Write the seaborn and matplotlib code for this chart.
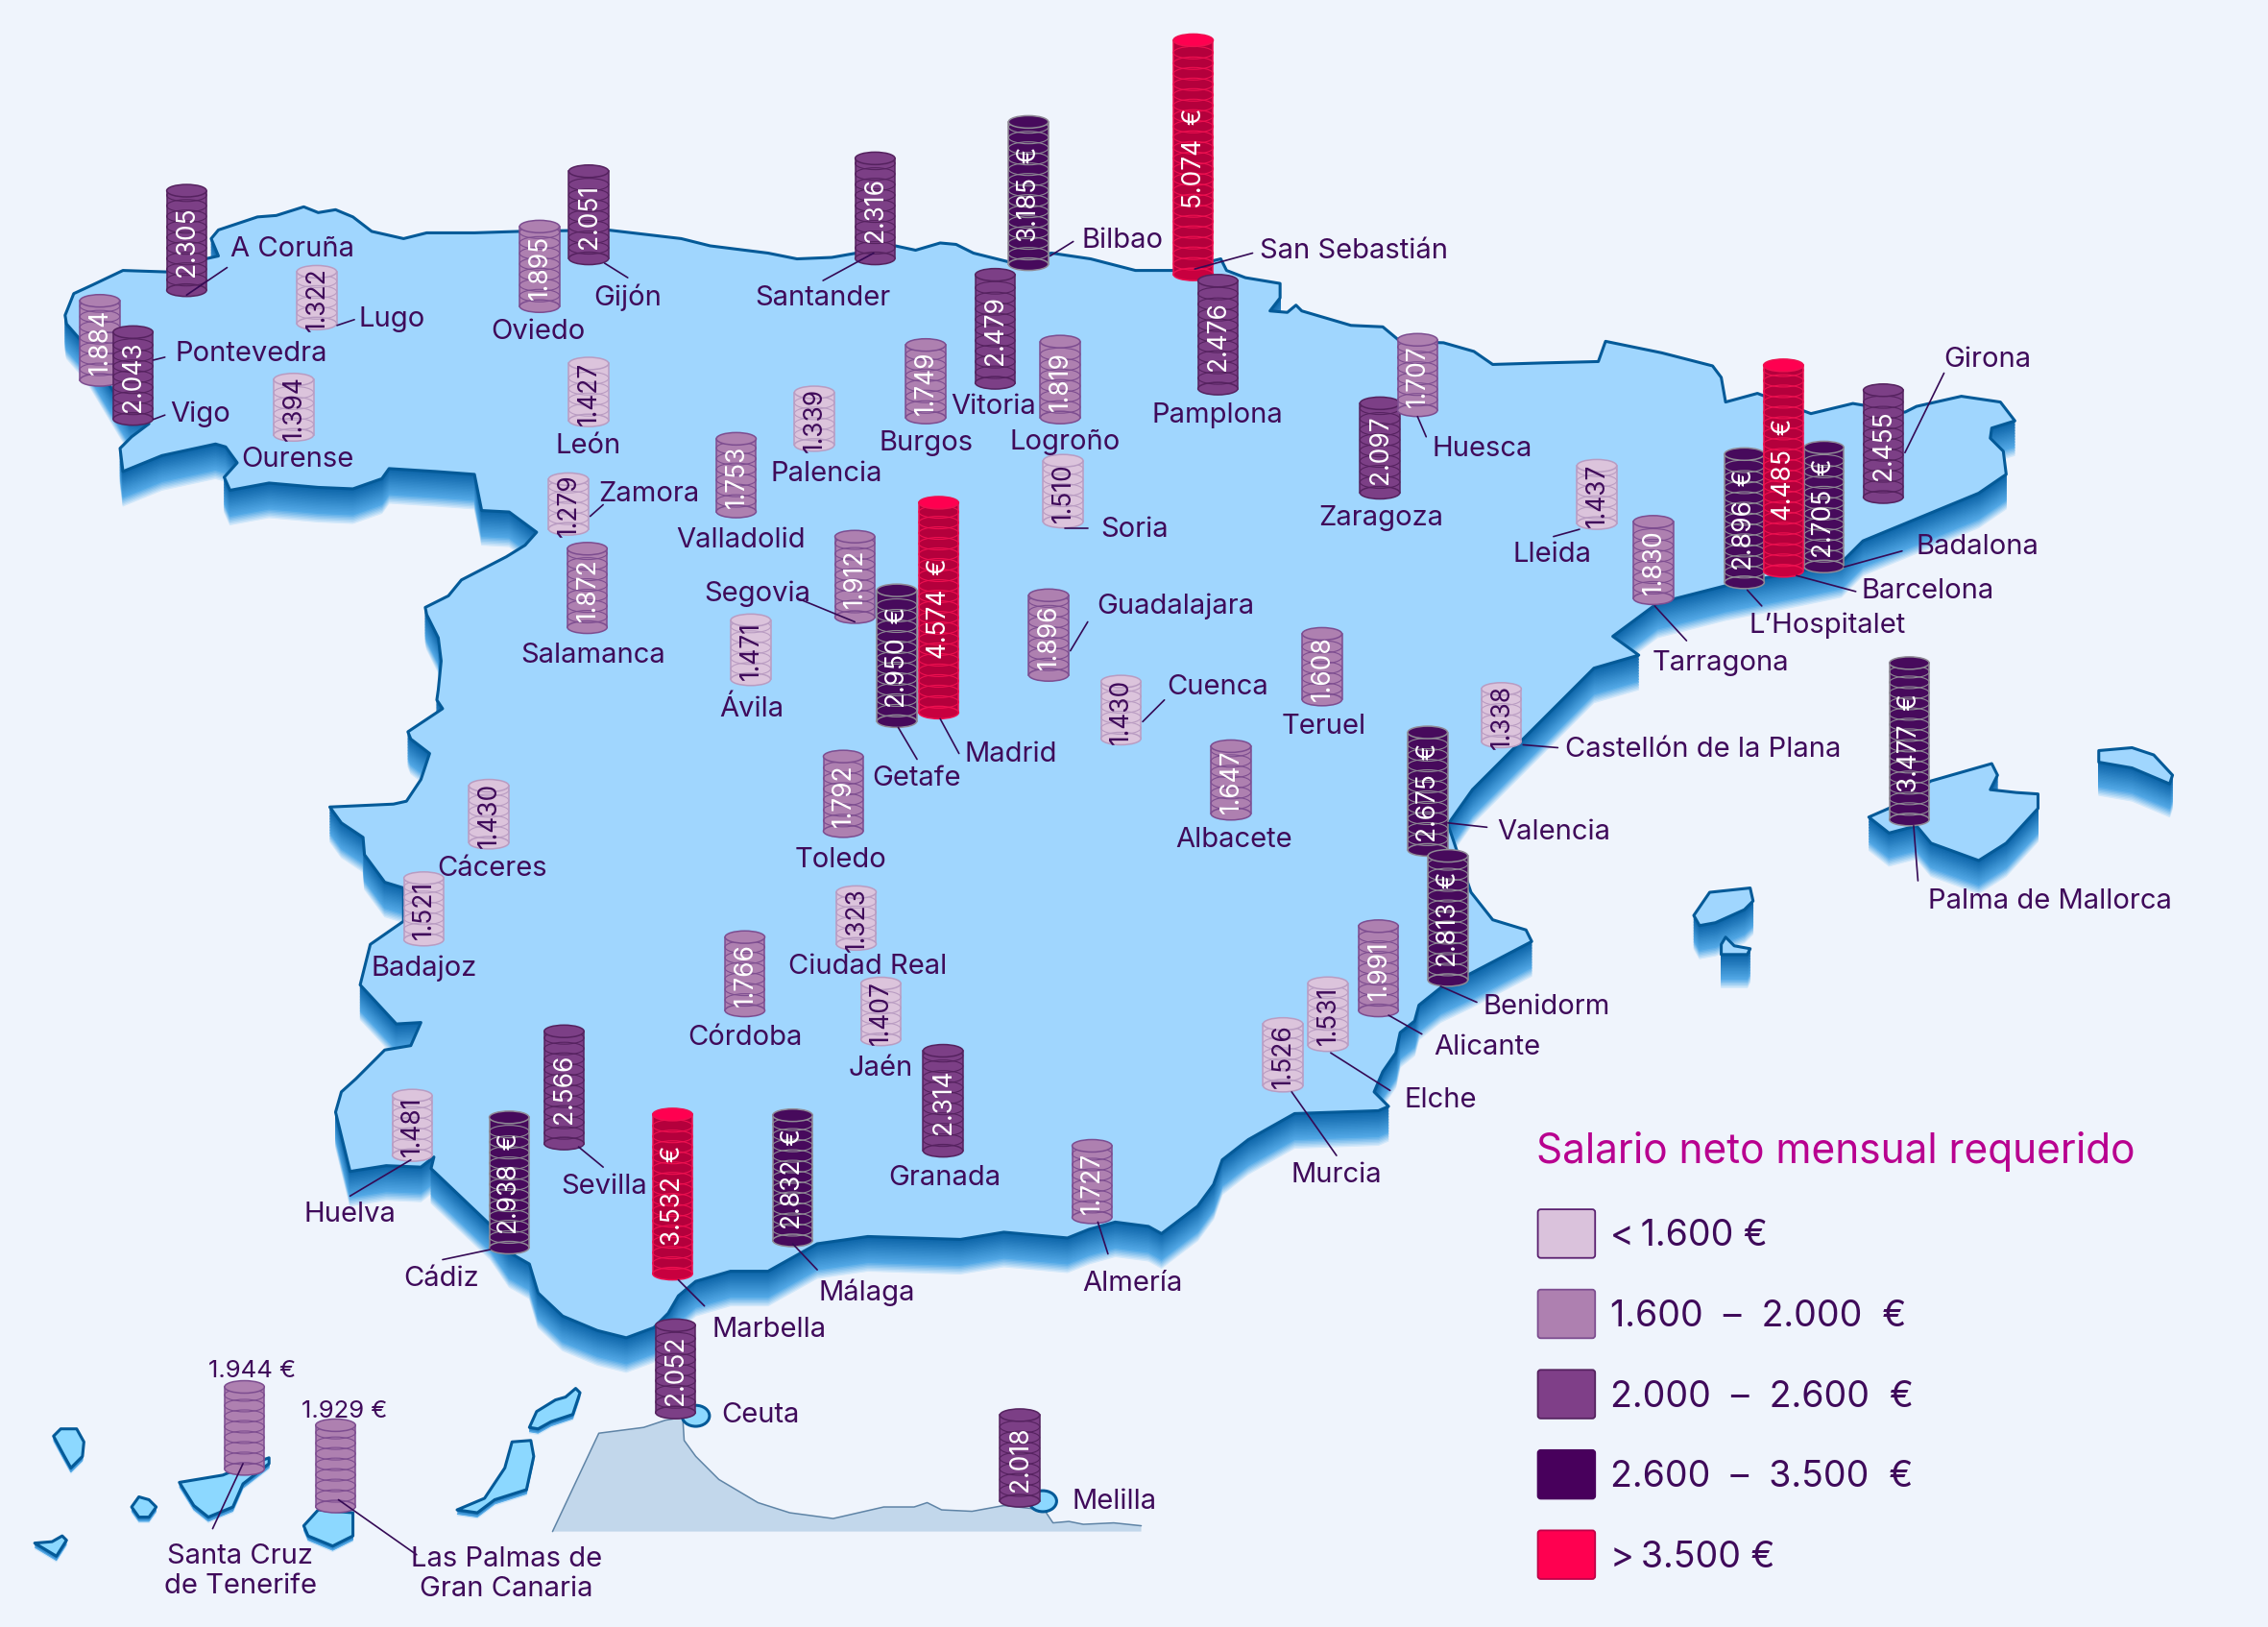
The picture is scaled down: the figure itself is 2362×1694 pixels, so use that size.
import numpy as np
import pandas as pd
import matplotlib
matplotlib.use("Agg")
import matplotlib.pyplot as plt
from matplotlib.colors import to_rgb
from matplotlib.patches import Ellipse, FancyBboxPatch, Polygon
import seaborn as sns

# ---------- data ----------
cities = ["Oviedo","Gijón","A Coruña","Lugo","Pontevedra","Vigo","Ourense","León","Zamora","Salamanca",
          "Valladolid","Palencia","Santander","Bilbao","Vitoria","Burgos","Logroño","Soria","San Sebastián","Pamplona",
          "Zaragoza","Huesca","Lleida","Tarragona","L’Hospitalet","Badalona","Barcelona","Girona","Segovia","Getafe",
          "Madrid","Ávila","Guadalajara","Cuenca","Teruel","Castellón de la Plana","Valencia","Benidorm","Albacete","Palma de Mallorca",
          "Toledo","Cáceres","Badajoz","Ciudad Real","Córdoba","Jaén","Granada","Alicante","Elche","Murcia",
          "Almería","Huelva","Cádiz","Sevilla","Marbella","Málaga","Ceuta","Melilla","Santa Cruz\nde Tenerife","Las Palmas de\nGran Canaria"]
salaries = [1895,2051,2305,1322,1884,2043,1394,1427,1279,1872,
            1753,1339,2316,3185,2479,1749,1819,1510,5074,2476,
            2097,1707,1437,1830,2896,2705,4485,2455,1912,2950,
            4574,1471,1896,1430,1608,1338,2675,2813,1647,3477,
            1792,1430,1521,1323,1766,1407,2314,1991,1531,1526,
            1727,1481,2938,2566,3532,2832,2052,2018,1944,1929]
# map position of each column: centre and foot
map_x = [373,407,129,219,69,92,203,407,393,406,
         509,563,605,711,688,640,733,735,825,842,
         954,980,1104,1143,1206,1261,1233,1302,591,620,
         649,519,725,775,914,1038,987,1001,851,1320,
         583,338,293,592,515,609,652,953,918,887,
         755,285,352,390,465,548,467,705,169,232]
map_y = [216,183,205,228,267,294,305,295,370,438,
         358,312,183,187,269,293,293,365,194,273,
         345,288,366,418,407,396,399,348,431,503,
         497,474,471,515,488,517,592,682,567,571,
         579,587,654,657,703,723,800,703,727,755,
         846,803,867,795,885,862,981,1042,1020,1046]
label_x = [372,434,159,248,121,118,206,407,414,410,
           512,533,569,748,687,640,736,761,871,842,
           955,990,1073,1142,1209,1325,1287,1344,487,603,
           667,520,758,807,915,1082,1035,1025,853,1333,
           581,340,293,545,515,609,653,991,971,924,
           783,242,305,388,492,566,499,741,166,350]
label_y = [228,204,171,219,243,285,316,307,340,452,
           372,326,205,165,280,305,304,365,172,286,
           357,309,382,457,431,377,407,247,409,537,
           520,489,418,474,501,517,574,695,579,622,
           593,599,668,667,716,737,813,723,759,811,
           886,838,883,819,918,892,977,1037,1085,1087]
label_left = {"A Coruña","Lugo","Pontevedra","Vigo","Zamora","Palencia","Bilbao","Soria","San Sebastián","Huesca",
              "Tarragona","L’Hospitalet","Badalona","Barcelona","Girona","Segovia","Getafe","Madrid","Guadalajara","Cuenca",
              "Castellón de la Plana","Valencia","Benidorm","Palma de Mallorca","Ciudad Real","Alicante","Elche","Sevilla",
              "Marbella","Málaga","Ceuta","Melilla"}
leaders = {"A Coruña":[(129,204),(157,185)],"Lugo":[(233,225),(245,221)],"Pontevedra":[(106,249),(114,247)],
           "Vigo":[(106,290),(114,287)],"Gijón":[(418,182),(434,192)],"Zamora":[(408,357),(417,349)],
           "Santander":[(604,175),(569,194)],"Bilbao":[(726,177),(742,167)],"San Sebastián":[(826,186),(866,175)],
           "Huesca":[(980,288),(986,302)],"Soria":[(736,365),(752,365)],"Lleida":[(1092,366),(1074,371)],
           "Tarragona":[(1144,419),(1166,443)],"L’Hospitalet":[(1208,408),(1218,419)],"Barcelona":[(1242,398),(1283,409)],
           "Badalona":[(1275,392),(1315,381)],"Girona":[(1317,313),(1344,258)],"Castellón de la Plana":[(1053,515),(1077,517)],
           "Valencia":[(1001,569),(1028,572)],"Palma de Mallorca":[(1323,571),(1326,609)],"Segovia":[(552,414),(591,430)],
           "Getafe":[(621,503),(634,525)],"Madrid":[(650,497),(663,521)],"Guadalajara":[(740,450),(752,430)],
           "Cuenca":[(790,499),(805,484)],"Benidorm":[(996,682),(1021,693)],"Alicante":[(960,702),(983,715)],
           "Elche":[(920,728),(961,754)],"Murcia":[(893,755),(924,799)],"Almería":[(759,845),(766,867)],
           "Huelva":[(284,802),(242,827)],"Cádiz":[(339,864),(306,871)],"Sevilla":[(400,793),(417,807)],
           "Marbella":[(469,885),(487,903)],"Málaga":[(548,860),(565,878)],
           "Santa Cruz\nde Tenerife":[(168,1012),(147,1057)],"Las Palmas de\nGran Canaria":[(234,1037),(288,1075)]}
tier_edges = [1600,2000,2600,3500]
tier_labels = ["<\u20091.600 €","1.600  –  2.000  €","2.000  –  2.600  €","2.600  –  3.500  €",">\u20093.500 €"]
legend_title = "Salario neto mensual requerido"
outside_values = {"Santa Cruz\nde Tenerife":("1.944 €",174,947),"Las Palmas de\nGran Canaria":("1.929 €",238,975)}

coast = [(46,224),(45,218),(51,203),(64,197),(85,187),(115,188),(142,179),(151,177),(146,165),(151,159),(178,150),(191,149),
 (210,143),(220,147),(232,145),(244,150),(257,160),(279,165),(295,161),(328,161),(359,160),(420,159),(471,165),(491,170),
 (531,175),(551,179),(575,178),(592,175),(619,170),(633,173),(650,168),(661,169),(673,175),(697,181),(727,175),(754,179),
 (785,187),(812,187),(844,179),(848,187),(861,192),(885,196),(885,206),(878,215),(890,216),(896,211),(900,215),(934,225),
 (956,226),(968,236),(998,237),(1019,243),(1032,252),(1065,251),(1105,250),(1110,236),(1149,244),(1184,253),(1190,261),
 (1193,278),(1215,272),(1252,286),(1281,279),(1317,285),(1325,281),(1356,274),(1383,278),(1393,291),(1377,296),(1376,303),
 (1385,312),(1387,328),(1368,341),(1288,374),(1273,389),(1244,395),(1193,405),(1146,417),(1115,440),(1133,453),(1102,462),
 (1051,513),(1018,546),(1001,570),(1017,617),(1032,636),(1055,643),(1059,651),(1017,673),(996,683),(981,695),(978,706),
 (968,714),(965,728),(956,741),(950,755),(960,765),(953,768),(895,770),(863,788),(845,802),(839,819),(828,834),(803,853),
 (794,848),(771,845),(753,850),(738,856),(694,852),(664,857),(600,855),(565,860),(531,879),(505,879),(481,886),(469,896),
 (462,908),(452,918),(433,925),(413,920),(389,910),(372,894),(366,874),(352,866),(339,847),(298,808),(300,800),(291,807),
 (267,806),(242,810),(232,769),(236,755),(246,746),(266,726),(284,723),(291,707),(274,708),(249,681),(252,669),(256,653),
 (279,637),(279,614),(266,610),(252,591),(251,579),(236,569),(228,558),(272,556),(281,554),(291,539),(297,521),(284,511),
 (282,506),(306,490),(302,484),(303,477),(305,457),(303,441),(295,425),(294,420),(310,412),(319,401),(350,385),(363,377),
 (371,368),(352,354),(333,353),(328,328),(301,326),(269,324),(264,331),(244,338),(220,337),(186,334),(159,339),(155,330),
 (164,320),(156,309),(149,307),(112,315),(85,326),(83,310),(91,302),(103,293),(90,290),(78,270),(60,240)]
islands_big = [
 [(1292,565),(1308,558),(1335,540),(1377,528),(1381,536),(1376,546),(1394,548),(1409,549),(1409,559),(1387,583),(1368,595),(1335,583),(1325,571),(1306,576)],
 [(1451,519),(1474,517),(1489,522),(1502,536),(1500,542),(1474,531),(1451,527)],
 [(1171,633),(1182,617),(1210,614),(1212,623),(1206,629),(1186,638),(1175,640)],
 [(1190,653),(1193,648),(1199,654),(1210,656),(1208,660),(1190,660)]]
islands_small = [
 [(37,993),(42,988),(53,988),(58,997),(57,1007),(49,1015),(44,1006)],
 [(91,1042),(96,1035),(103,1037),(108,1042),(103,1049),(96,1049)],
 [(24,1067),(36,1066),(43,1062),(46,1065),(39,1076)],
 [(124,1025),(154,1020),(166,1015),(186,1008),(186,1012),(168,1026),(161,1042),(144,1049),(134,1041)],
 [(210,1055),(220,1044),(244,1046),(244,1062),(230,1069),(213,1062)],
 [(316,1044),(335,1036),(349,1015),(354,997),(367,996),(369,1007),(364,1030),(342,1037),(330,1046)],
 [(366,987),(371,976),(384,968),(391,966),(398,960),(401,963),(396,978),(381,983),(372,988)]]
africa = [(382,1059),(414,991),(445,987),(460,982),(472,980),(473,996),(481,1007),(497,1023),(524,1039),(546,1046),(576,1050),
 (611,1042),(632,1042),(641,1039),(651,1044),(672,1045),(694,1041),(722,1044),(728,1053),(739,1052),(749,1054),(770,1053),(789,1055),(789,1059)]
enclaves = [(481,979),(721,1038)]

# ---------- style ----------
BG = "#eff4fc"; LAND = "#a0d6fe"; COAST = "#045a98"; INK = "#3f0a5a"
FONT = ["Inter","DejaVu Sans"]
tier_fill = ["#dcc4dc","#ae80b0","#7c3f86","#470a5c","#b4003c"]
tier_edge = ["#b99cc2","#7d4d90","#55225f","#8f8a95","#ee1050"]
tier_cap  = ["#dcc4dc","#ae80b0","#7c3f86","#470a5c","#ff0050"]
legend_fill = ["#dac2dc","#ae80b0","#7f3f88","#48005c","#ff0050"]
legend_edge = ["#5a2070","#7d4d90","#55225f","#48005c","#c00048"]

sns.set_theme(style="white")
plt.rcParams["font.family"] = FONT
fig, ax = plt.subplots(figsize=(23.62,16.94), dpi=100, facecolor=BG)
ax.set_position([0,0,1,1]); ax.set_facecolor(BG)

def lerp(a,b,t):
    a,b = np.array(to_rgb(a)),np.array(to_rgb(b))
    return tuple(a+(b-a)*t)

def shade(t):
    if t < 0.75:
        return lerp("#0a62a6","#52a8e6",t/0.75)
    return lerp("#52a8e6","#d2e8fa",(t-0.75)/0.25)

def extruded(points, depth, fill, z):
    pts = np.array(points,float)
    for d in range(depth,0,-1):
        c = shade(d/depth)
        ax.add_patch(Polygon(pts+[0,d],closed=True,fc=c,ec=c,lw=0.6,zorder=z))
    ax.add_patch(Polygon(pts,closed=True,fc=fill,ec=COAST,lw=2.2,joinstyle="round",zorder=z+0.1))

# north Africa strip
afr = np.array(africa,float)
ax.add_patch(Polygon(afr,closed=True,fc="#c2d7eb",ec="none",zorder=1))
ax.plot(afr[:-1,0],afr[:-1,1],color="#5f84a6",lw=1.1,zorder=1.1)

extruded(coast,24,LAND,2)
for isl in islands_big:
    extruded(isl,23,LAND,2)
for isl in islands_small:
    extruded(isl,4,"#8cd8ff",2)
for cx,cy in enclaves:
    ax.add_patch(Ellipse((cx,cy),19,14.5,fc="#8cd8ff",ec=COAST,lw=2.2,zorder=3))

# columns
WIDTH = 27.5; CAP = 8.6; STEP = 7.3; PER_EURO = 0.0336
tiers = np.digitize(salaries,tier_edges)
for i,(name,val,x,foot,t) in enumerate(zip(cities,salaries,map_x,map_y,tiers)):
    z = 10+i*0.1
    h = val*PER_EURO
    low = foot-CAP/2; top = foot-h+CAP/2
    ax.bar(x,low-top,width=WIDTH,bottom=top,color=tier_fill[t],edgecolor=tier_edge[t],lw=1.1,zorder=z)
    ax.add_patch(Ellipse((x,low),WIDTH,CAP,fc=tier_cap[t] if t<4 else "#c8003f",ec=tier_edge[t],lw=1.1,zorder=z))
    # stacked coins
    yy = low-STEP
    while yy>top+STEP*0.4:
        ax.add_patch(Ellipse((x,yy),WIDTH,CAP,fc="none",ec=tier_edge[t],lw=0.8,zorder=z+0.01))
        yy -= STEP
    ax.add_patch(Ellipse((x,top),WIDTH,CAP,fc=tier_cap[t],ec=tier_edge[t],lw=1.1,zorder=z+0.02))
    if name not in outside_values:
        txt = f"{val:,}".replace(",",".")+("  €" if t>=3 else "")
        ax.text(x+0.5,(foot+foot-h)/2+1,txt,rotation=90,ha="center",va="center",fontsize=19,
                color=INK if t==0 else "white",zorder=z+0.03)

# leader lines
rows = [(c,px,py) for c,seg in leaders.items() for px,py in seg]
lead = pd.DataFrame(rows,columns=["city","x","y"])
sns.lineplot(data=lead,x="x",y="y",units="city",estimator=None,sort=False,color="#350a55",lw=1.2,legend=False,ax=ax,zorder=30)

# names
for name,x,y in zip(cities,label_x,label_y):
    ax.text(x,y+1.5,name,ha="left" if name in label_left else "center",va="center",fontsize=21,color=INK,
            linespacing=1.15,zorder=40)
for txt,x,y in outside_values.values():
    ax.text(x,y+1,txt,ha="center",va="center",fontsize=18.5,color=INK,zorder=40)

# legend
ax.text(1062,796,legend_title,fontsize=30.5,color="#b8008f",ha="left",va="center",zorder=40)
for t,(lab,y0) in enumerate(zip(tier_labels,[836,891.5,947,1002.5,1058])):
    ax.add_patch(FancyBboxPatch((1064,y0+1),38,32,boxstyle="round,pad=0.8,rounding_size=2",
                                fc=legend_fill[t],ec=legend_edge[t],lw=1.3,zorder=40))
    ax.text(1113,y0+19,lab,fontsize=27,color=INK,ha="left",va="center",zorder=40)

ax.set(xlim=(0,1568),ylim=(1125,0),xlabel="",ylabel="")
ax.set_xticks([]); ax.set_yticks([])
sns.despine(ax=ax,left=True,bottom=True)
fig.savefig("out.png",dpi=100,facecolor=BG)
